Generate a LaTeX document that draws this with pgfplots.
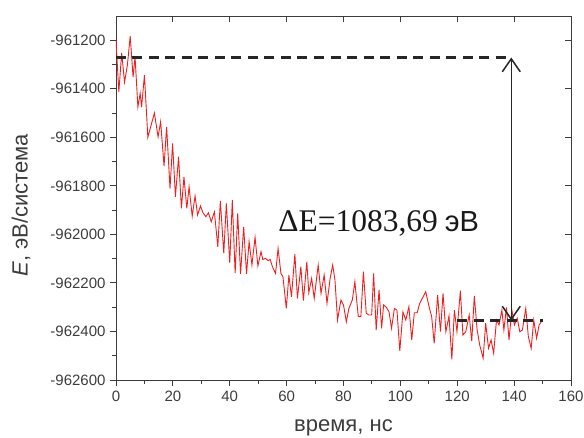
\documentclass[border=0pt]{standalone}
\usepackage{fontspec}
\setmainfont{Liberation Sans}
\newfontfamily\serifont{Liberation Serif}
\usepackage{pgfplots}
\pgfplotsset{compat=1.18}
\usetikzlibrary{arrows.meta}
\definecolor{axisgray}{RGB}{60,60,60}
\definecolor{linered}{RGB}{240,30,30}

\begin{document}
\begin{tikzpicture}
\pgfplotsset{
  frame/.style={
    scale only axis, width=455pt, height=364pt,
    xmin=0, xmax=160, ymin=-962600, ymax=-961100,
    scaled ticks=false,
    xtick={0,20,40,60,80,100,120,140,160},
    ytick={-962600,-962400,-962200,-962000,-961800,-961600,-961400,-961200},
    axis line style={axisgray, line width=0.9pt},
    tick style={axisgray, line width=0.9pt},
  }
}
% top and right: inner ticks, major only
\begin{axis}[frame,
  xticklabels={}, yticklabels={},
  tick align=inside, xtick pos=top, ytick pos=right,
  major tick length=6pt]
\end{axis}

\begin{axis}[frame,
  xticklabels={0,20,40,60,80,100,120,140,160},
  yticklabels={-962600,-962400,-962200,-962000,-961800,-961600,-961400,-961200},
  minor x tick num=1, minor y tick num=1,
  tick align=outside, xtick pos=bottom, ytick pos=left,
  major tick length=6pt, minor tick length=4pt,
  tick label style={font=\fontsize{15}{17}\selectfont, text=axisgray},
  xticklabel style={yshift=-1pt},
  yticklabel style={xshift=-1pt},
  xlabel={время, нс},
  ylabel={\textit{E}, эВ/система},
  xlabel style={font=\fontsize{22}{26}\selectfont, text=axisgray,
    at={(axis description cs:0.5,0)}, anchor=base, yshift=-52pt},
  ylabel style={font=\fontsize{22}{26}\selectfont, text=axisgray,
    at={(axis description cs:0,0.48)}, anchor=center, yshift=95pt},
]
\addplot[linered, line width=0.9pt] coordinates {
(0,-961200) (1,-961413) (2,-961252) (3,-961372) (4,-961303) (5,-961183)
(6,-961351) (6.7,-961269) (7.7,-961475) (8.5,-961419) (9,-961475) (10,-961344)
(11.2,-961600) (13.5,-961500) (14.8,-961598) (15.7,-961536) (16.9,-961719) (17.8,-961557)
(19,-961811) (19.9,-961625) (20.9,-961845) (22,-961680) (23,-961893) (23.9,-961763)
(24.9,-961893) (25.7,-961804) (26.8,-961925) (27.8,-961842) (28.7,-961920) (29.7,-961883)
(30.6,-961911) (31.6,-961927) (32.5,-961911) (33.5,-961948) (34.6,-961907) (35.8,-962051)
(36.7,-961862) (37.9,-962078) (38.8,-961872) (40,-962117) (40.9,-961859) (41.9,-962160)
(42.8,-961913) (43.8,-962163) (44.9,-961969) (45.9,-962163) (46.8,-962030) (47.8,-962126)
(48.9,-962012) (49.9,-962130) (51,-962071) (51.6,-962103) (52.6,-962099) (53.5,-962108)
(54.2,-962103) (55.1,-962136) (56.1,-962161) (57,-962058) (58,-962161) (58.7,-962174)
(59.9,-962305) (60.8,-962167) (61.7,-962257) (62.9,-962081) (63.8,-962264) (65,-962133)
(65.9,-962273) (67.1,-962113) (67.8,-962240) (68.8,-962181) (69.7,-962264) (71.1,-962126)
(72.1,-962243) (73.2,-962167) (74.2,-962284) (75.3,-962181) (76.2,-962126) (77,-962188)
(77.9,-962353) (79.1,-962270) (80,-962291) (81,-962360) (81.9,-962305) (83.1,-962270)
(84,-962195) (85.2,-962339) (86.1,-962339) (87,-962154) (88,-962325) (88.9,-962332)
(89.9,-962332) (90.6,-962161) (91.5,-962394) (92.5,-962229) (93.4,-962387) (94.1,-962291)
(95.1,-962301) (96,-962319) (96.9,-962387) (97.9,-962305) (98.8,-962312) (99.8,-962480)
(100.9,-962319) (101.9,-962353) (103,-962298) (104,-962435) (104.9,-962323) (105.9,-962323)
(106.8,-962284) (107.7,-962264) (108.9,-962236) (110.1,-962298) (111,-962339) (111.9,-962449)
(113.1,-962250) (114.1,-962401) (115,-962243) (116,-962401) (117.1,-962336) (118.1,-962515)
(119,-962312) (119.9,-962401) (121.1,-962232) (122,-962415) (123,-962401) (124.2,-962332)
(125.1,-962440) (126,-962254) (127,-962394) (127.9,-962456) (129.1,-962510) (130,-962366)
(131,-962469) (131.9,-962435) (132.8,-962490) (133.8,-962353) (134.7,-962373) (135.7,-962312)
(136.4,-962394) (137.3,-962301) (138.2,-962435) (139.2,-962312) (140.1,-962373) (141.1,-962346)
(142,-962401) (142.9,-962394) (144.1,-962305) (145,-962421) (146,-962469) (146.9,-962353)
(147.9,-962428) (148.8,-962373) (150,-962353)
};
\addplot[black!85, line width=2.4pt, dash pattern=on 10pt off 6.5pt] coordinates {(0,-961271) (139,-961271)};
\addplot[black!85, line width=2.4pt, dash pattern=on 10pt off 6.5pt] coordinates {(120,-962355) (150,-962355)};
\addplot[black!85, line width=1.5pt, {Straight Barb[length=13pt,width=18pt,line width=1.5pt]}-{Straight Barb[length=13pt,width=18pt,line width=1.5pt]}] coordinates {(139,-961271) (139,-962355)};
\node[anchor=base west, inner sep=0pt, text=black!90] at (axis cs:57,-961990)
  {{\serifont\fontsize{31.5}{36}\selectfont ΔE=1083,69}\hspace{7pt}{\fontsize{29}{34}\selectfont эВ}};
\end{axis}
\pgfresetboundingbox
\useasboundingbox ([shift={(-116pt,-58pt)}]current axis.south west) rectangle ([shift={(13pt,16pt)}]current axis.north east);
\end{tikzpicture}
\end{document}
